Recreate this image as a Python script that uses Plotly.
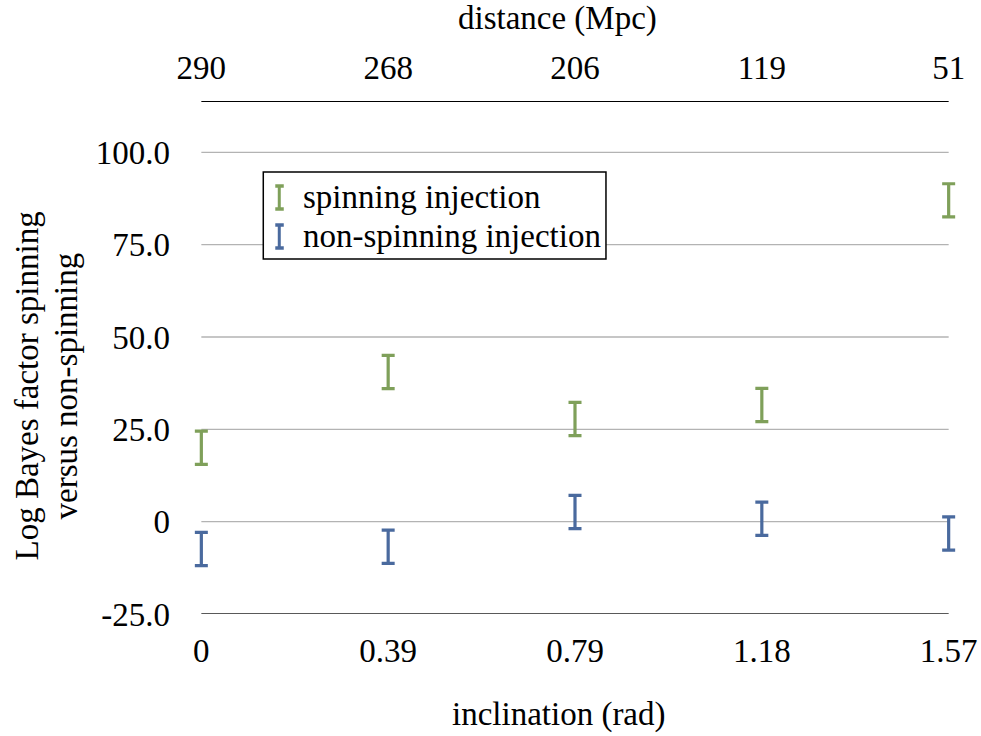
import plotly.graph_objects as go

inclination = ["0", "0.39", "0.79", "1.18", "1.57"]
distance = ["290", "268", "206", "119", "51"]
spinning = [20.0, 40.5, 27.8, 31.6, 87.0]
spinning_err = [4.5, 4.5, 4.5, 4.5, 4.5]
nonspinning = [-7.4, -6.8, 2.6, 0.8, -3.2]
nonspinning_err = [4.5, 4.5, 4.5, 4.5, 4.5]
ytick_vals = [-25, 0, 25, 50, 75, 100]
ytick_text = ["-25.0", "0", "25.0", "50.0", "75.0", "100.0"]
y_top = 113.9

GREEN = "#7fa05a"
BLUE = "#4a6a9e"
FONT = "Liberation Serif"
FS = 33
TFONT = dict(family=FONT, size=FS, color="black")

# geometry (pixels)
PAD = 0.05                       # category padding so caps are not clipped
X0PX, X1PX = 201.0, 949.0        # pixel positions of first / last category
UNIT = (X1PX - X0PX) / (len(inclination) - 1)
L = X0PX - PAD * UNIT
R = 981 - (X1PX + PAD * UNIT)
T, B = 101, 122
W = 981 - L - R
H = 736 - T - B

def px(xp):
    return (xp - L) / W

def py(yp):
    return (736 - B - yp) / H

fig = go.Figure()

# gridlines and frame lines spanning the category extent
n = len(inclination) - 1
for v in ytick_vals[1:]:
    fig.add_shape(type="line", xref="x", yref="y", x0=0, x1=n, y0=v, y1=v,
                  line=dict(color="#b3b3b3", width=1.3), layer="below")
fig.add_shape(type="line", xref="x", yref="y", x0=0, x1=n, y0=ytick_vals[0], y1=ytick_vals[0],
              line=dict(color="#222", width=1.6), layer="below")
fig.add_shape(type="line", xref="x", yref="y", x0=0, x1=n, y0=y_top, y1=y_top,
              line=dict(color="black", width=2), layer="below")

fig.add_trace(go.Scatter(
    x=inclination, y=spinning, mode="markers",
    marker=dict(size=1, opacity=0, color=GREEN),
    error_y=dict(type="data", array=spinning_err, color=GREEN, thickness=3.2, width=6.5),
    name="spinning injection", showlegend=False, hoverinfo="skip"))
fig.add_trace(go.Scatter(
    x=inclination, y=nonspinning, mode="markers",
    marker=dict(size=1, opacity=0, color=BLUE),
    error_y=dict(type="data", array=nonspinning_err, color=BLUE, thickness=3.2, width=6.5),
    name="non-spinning injection", showlegend=False, hoverinfo="skip"))
# invisible trace to carry the top distance axis
fig.add_trace(go.Scatter(
    x=distance, y=spinning, xaxis="x2", mode="markers",
    marker=dict(size=1, opacity=0), showlegend=False, hoverinfo="skip"))

fig.update_layout(
    width=981, height=736,
    margin=dict(l=L, r=R, t=T, b=B),
    paper_bgcolor="white", plot_bgcolor="white",
    font=dict(family=FONT, size=FS, color="black"),
    xaxis=dict(
        type="category", categoryorder="array", categoryarray=inclination,
        range=[-PAD, n + PAD], automargin=False,
        showgrid=False, zeroline=False, showline=False,
        ticks="", ticklabelstandoff=14, tickfont=TFONT,
    ),
    xaxis2=dict(
        type="category", categoryorder="array", categoryarray=distance,
        range=[-PAD, n + PAD], automargin=False,
        overlaying="x", side="top",
        showgrid=False, zeroline=False, showline=False,
        ticks="", ticklabelstandoff=14, tickfont=TFONT,
    ),
    yaxis=dict(
        range=[ytick_vals[0], y_top], automargin=False,
        tickvals=ytick_vals, ticktext=ytick_text,
        showgrid=False, zeroline=False, showline=False, ticks="",
        ticklabelstandoff=21, tickfont=TFONT,
    ),
)

# axis titles as annotations
fig.add_annotation(xref="paper", yref="paper", x=px(559), y=py(714),
                   xanchor="center", yanchor="middle", showarrow=False,
                   text="inclination (rad)", font=TFONT)
fig.add_annotation(xref="paper", yref="paper", x=px(557), y=py(19),
                   xanchor="center", yanchor="middle", showarrow=False,
                   text="distance (Mpc)", font=TFONT)
for xc, line in [(26, "Log Bayes factor spinning"), (66, "versus non-spinning")]:
    fig.add_annotation(xref="paper", yref="paper", x=px(xc), y=py(386),
                       xanchor="center", yanchor="middle", showarrow=False,
                       textangle=-90, text=line, font=TFONT)

# legend box (drawn manually to mimic error-bar glyphs)
fig.add_shape(type="rect", xref="paper", yref="paper",
              x0=px(263), x1=px(606), y0=py(259), y1=py(172),
              line=dict(color="black", width=1.5), fillcolor="white", layer="above")

rows = [(197, GREEN, "spinning injection"), (236, BLUE, "non-spinning injection")]
for yc, col, label in rows:
    top, bot = yc - 11, yc + 12
    fig.add_shape(type="line", xref="paper", yref="paper",
                  x0=px(279), x1=px(279), y0=py(top), y1=py(bot),
                  line=dict(color=col, width=3), layer="above")
    for yy in (top, bot):
        fig.add_shape(type="line", xref="paper", yref="paper",
                      x0=px(275), x1=px(283.5), y0=py(yy), y1=py(yy),
                      line=dict(color=col, width=3.5), layer="above")
    fig.add_annotation(xref="paper", yref="paper", x=px(301), y=py(yc),
                       xanchor="left", yanchor="middle", showarrow=False,
                       text=label, font=TFONT)

fig.write_html("out.html")
